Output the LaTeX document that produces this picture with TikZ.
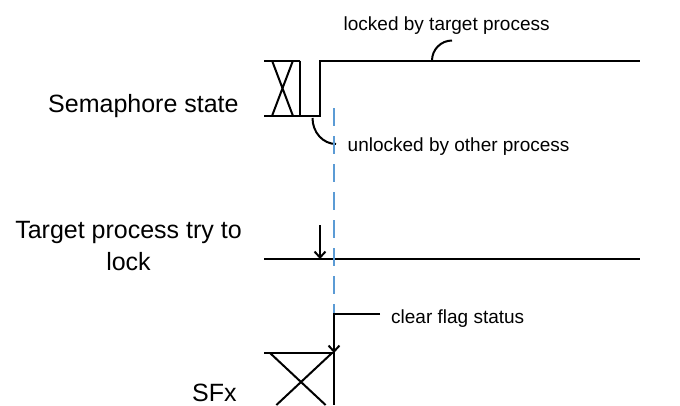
\documentclass[tikz,border=0pt]{standalone}
\usepackage{fontspec}
\setmainfont{Liberation Sans}
\usetikzlibrary{arrows.meta}
\definecolor{dashblue}{RGB}{91,155,213}
\begin{document}
\begin{tikzpicture}[x=1pt,y=-1pt,
  sig/.style={line width=2pt, line join=miter},
  arr/.style={sig,-{Straight Barb[length=6pt,width=11pt]}},
  big/.style={font=\fontsize{25}{32}\selectfont, inner sep=0pt},
  small/.style={font=\fontsize{19}{23}\selectfont, inner sep=0pt},
  guide/.style={dashblue, line width=2pt, dash pattern=on 18pt off 10pt}]
\useasboundingbox (0,0) rectangle (680,405);

% labels
\node[big, anchor=base west] (sem) at (48,112.5) {Semaphore state};
\node[big, anchor=base, align=center] (tpt) at (128.5,270) {Target process try to\\lock};
\node[big, anchor=base west] (sfx) at (192,401) {SFx};
\node[small, anchor=base west] (lk) at (343.5,30.5) {locked by target process};
\node[small, anchor=base west] (ul) at (347.5,151.5) {unlocked by other process};
\node[small, anchor=base west] (cf) at (391,323.3) {clear flag status};

% semaphore state waveform
\coordinate (a1) at (264,60.5);
\coordinate (a2) at (300,60.5);
\coordinate (b1) at (264,116);
\coordinate (b2) at (300,116);
\coordinate (b3) at (320,116);
\coordinate (a3) at (320,60.5);
\coordinate (a4) at (640,60.5);
\draw[sig] (a1) -- (a2);
\draw[sig] (b1) -- (b3) -- (a3) -- (a4);
\draw[sig] (a2) -- (b2);
\draw[sig] (272,60.5) -- (293,116) (293,60.5) -- (272,116);

% callout arcs
\coordinate (lkA) at (432,60.5);
\coordinate (lkB) at (452,40.5);
\draw[sig] (lkA) .. controls (432,49.5) and (441,40.5) .. (lkB);
\coordinate (ulA) at (312.5,118);
\coordinate (ulB) at (336,144);
\draw[sig] (ulA) .. controls (312.5,132.4) and (323,144) .. (ulB);

% target process try to lock
\coordinate (t0) at (320,225);
\coordinate (t1) at (320,259);
\coordinate (l1) at (264,259);
\coordinate (l2) at (640,259);
\draw[arr] (t0) -- (t1);
\draw[sig] (l1) -- (l2);

% guide line
\coordinate (g0) at (334,108);
\coordinate (g1) at (334,313.5);
\draw[guide] (g0) -- (g1);

% clear flag
\coordinate (c0) at (380,313.5);
\coordinate (c1) at (334,353);
\draw[arr] (c0) -- (g1) -- (c1);

% SFx
\coordinate (f0) at (264,353);
\coordinate (f1) at (334,405);
\draw[sig] (f0) -- (c1) -- (f1);
\draw[sig] (270,353) -- (325.6,405) (332,353) -- (276.4,405);
\end{tikzpicture}
\end{document}
